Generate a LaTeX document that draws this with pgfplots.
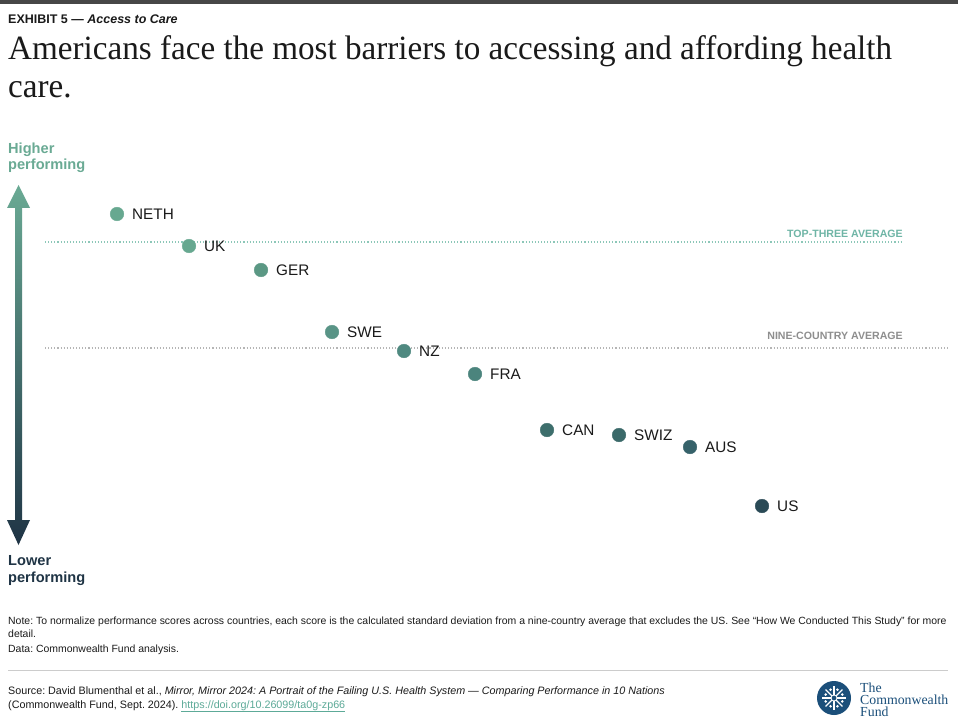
\documentclass[border=0pt]{standalone}
\usepackage{fontspec}
\setmainfont{Liberation Sans}
\newfontfamily\titlefont[FakeStretch=0.975]{Liberation Serif}
\newfontfamily\logofont{Liberation Serif}
\usepackage{pgfplots}
\pgfplotsset{compat=1.18}
\frenchspacing
\definecolor{cNETH}{HTML}{67A890}
\definecolor{cUK}{HTML}{67A890}
\definecolor{cGER}{HTML}{5B9884}
\definecolor{cSWE}{HTML}{599486}
\definecolor{cNZ}{HTML}{4F8980}
\definecolor{cFRA}{HTML}{4B847D}
\definecolor{cCAN}{HTML}{3D6E6C}
\definecolor{cSWIZ}{HTML}{3A6969}
\definecolor{cAUS}{HTML}{36626A}
\definecolor{cUS}{HTML}{2A4A56}
\definecolor{arrtop}{HTML}{6AAA94}
\definecolor{arrbot}{HTML}{1F3445}
\definecolor{topavg}{HTML}{6FB5A6}
\definecolor{topline}{HTML}{8CC7B8}
\definecolor{nineavg}{HTML}{8E8E8E}
\definecolor{nineline}{HTML}{B5B5B5}
\definecolor{logoblue}{HTML}{1B4F7A}
\definecolor{linkc}{HTML}{5DAA98}
\definecolor{txt}{HTML}{1A1A1A}
\tikzset{lbl/.style={anchor=west,inner sep=0pt,xshift=15pt,text=txt,
    font=\fontsize{15.3}{18}\selectfont}}
\begin{document}
\begin{tikzpicture}
\begin{axis}[width=958pt,height=722pt,scale only axis,
  xmin=0,xmax=958,ymin=0,ymax=722,y dir=reverse,hide axis,clip=false,
  every axis plot/.append style={only marks,mark=*,mark size=6.8pt,
    mark options={draw=none}}]
% background
\fill[white] (axis cs:0,0) rectangle (axis cs:958,722);
\fill[black!72] (axis cs:0,0) rectangle (axis cs:958,4);
% header
\node[anchor=base west,inner sep=0pt,text=txt,font=\fontsize{12.5}{15}\selectfont\bfseries]
  at (axis cs:8,24) {EXHIBIT 5 --- \textit{Access to Care}};
\node[anchor=base west,inner sep=0pt,text=txt,font=\fontsize{34}{38}\selectfont\titlefont]
  at (axis cs:8,60) {Americans face the most barriers to accessing and affording health};
\node[anchor=base west,inner sep=0pt,text=txt,font=\fontsize{34}{38}\selectfont\titlefont]
  at (axis cs:8,98) {care.};
% side labels
\node[anchor=base west,inner sep=0pt,text=arrtop,font=\fontsize{14.6}{17}\selectfont\bfseries]
  at (axis cs:8,154) {Higher};
\node[anchor=base west,inner sep=0pt,text=arrtop,font=\fontsize{14.6}{17}\selectfont\bfseries]
  at (axis cs:8,170) {performing};
\node[anchor=base west,inner sep=0pt,text=arrbot,font=\fontsize{14.6}{17}\selectfont\bfseries]
  at (axis cs:8,565) {Lower};
\node[anchor=base west,inner sep=0pt,text=arrbot,font=\fontsize{14.6}{17}\selectfont\bfseries]
  at (axis cs:8,582) {performing};
% arrow
\shade[top color=arrtop,bottom color=arrbot]
  (axis cs:18.5,185) -- (axis cs:30,208) -- (axis cs:22,208) -- (axis cs:22,520)
  -- (axis cs:30,520) -- (axis cs:18.5,545) -- (axis cs:7,520) -- (axis cs:15,520)
  -- (axis cs:15,208) -- (axis cs:7,208) -- cycle;
% average lines
\draw[topline,line width=1.1pt,dash pattern=on 1.1pt off 2pt] (axis cs:45,242) -- (axis cs:903,242);
\draw[nineline,line width=1.1pt,dash pattern=on 1.1pt off 2pt] (axis cs:45,348) -- (axis cs:948,348);
\node[anchor=base east,inner sep=0pt,text=topavg,font=\fontsize{10.6}{12}\selectfont\bfseries]
  at (axis cs:903,237) {TOP-THREE AVERAGE};
\node[anchor=base east,inner sep=0pt,text=nineavg,font=\fontsize{10.6}{12}\selectfont\bfseries]
  at (axis cs:903,339) {NINE-COUNTRY AVERAGE};
% data points
\addplot[color=cNETH] coordinates {(117,214)} node[lbl] {NETH};
\addplot[color=cUK] coordinates {(189,246)} node[lbl] {UK};
\addplot[color=cGER] coordinates {(261,270)} node[lbl] {GER};
\addplot[color=cSWE] coordinates {(332,332)} node[lbl] {SWE};
\addplot[color=cNZ] coordinates {(404,351)} node[lbl] {NZ};
\addplot[color=cFRA] coordinates {(475,374)} node[lbl] {FRA};
\addplot[color=cCAN] coordinates {(547,430)} node[lbl] {CAN};
\addplot[color=cSWIZ] coordinates {(619,435)} node[lbl] {SWIZ};
\addplot[color=cAUS] coordinates {(690,447)} node[lbl] {AUS};
\addplot[color=cUS] coordinates {(762,506)} node[lbl] {US};
% notes
\node[anchor=base west,inner sep=0pt,text=txt,font=\fontsize{10.45}{12.5}\selectfont]
  at (axis cs:8,624) {Note: To normalize performance scores across countries, each score is the calculated standard deviation from a nine-country average that excludes the US. See ``How We Conducted This Study'' for more};
\node[anchor=base west,inner sep=0pt,text=txt,font=\fontsize{10.45}{12.5}\selectfont]
  at (axis cs:8,637) {detail.};
\node[anchor=base west,inner sep=0pt,text=txt,font=\fontsize{10.45}{12.5}\selectfont]
  at (axis cs:8,652) {Data: Commonwealth Fund analysis.};
\draw[black!20,line width=0.8pt] (axis cs:8,670) -- (axis cs:948,670);
\node[anchor=base west,inner sep=0pt,text=txt,font=\fontsize{10.75}{12.5}\selectfont]
  at (axis cs:8,694) {Source: David Blumenthal et al., \textit{Mirror, Mirror 2024: A Portrait of the Failing U.S. Health System --- Comparing Performance in 10 Nations}};
\node[anchor=base west,inner sep=0pt,text=txt,font=\fontsize{10.75}{12.5}\selectfont]
  at (axis cs:8,708) {(Commonwealth Fund, Sept. 2024). \textcolor{linkc}{\underline{https://doi.org/10.26099/ta0g-zp66}}};
% logo
\fill[logoblue] (axis cs:834,698) circle[radius=17pt];
\draw[white,line width=1.1pt] (axis cs:834,698) -- ++(0:12pt);
\draw[white,line width=1.1pt] (axis cs:834,698) -- ++(45:12pt);
\draw[white,line width=1.1pt] (axis cs:834,698) -- ++(90:12pt);
\draw[white,line width=1.1pt] (axis cs:834,698) -- ++(135:12pt);
\draw[white,line width=1.1pt] (axis cs:834,698) -- ++(180:12pt);
\draw[white,line width=1.1pt] (axis cs:834,698) -- ++(225:12pt);
\draw[white,line width=1.1pt] (axis cs:834,698) -- ++(270:12pt);
\draw[white,line width=1.1pt] (axis cs:834,698) -- ++(315:12pt);
\fill[white] (axis cs:834,698) ++(22.5:9pt) circle[radius=1.4pt];
\fill[white] (axis cs:834,698) ++(67.5:9pt) circle[radius=1.4pt];
\fill[white] (axis cs:834,698) ++(112.5:9pt) circle[radius=1.4pt];
\fill[white] (axis cs:834,698) ++(157.5:9pt) circle[radius=1.4pt];
\fill[white] (axis cs:834,698) ++(202.5:9pt) circle[radius=1.4pt];
\fill[white] (axis cs:834,698) ++(247.5:9pt) circle[radius=1.4pt];
\fill[white] (axis cs:834,698) ++(292.5:9pt) circle[radius=1.4pt];
\fill[white] (axis cs:834,698) ++(337.5:9pt) circle[radius=1.4pt];
\fill[logoblue] (axis cs:834,698) circle[radius=3pt];
\draw[white,line width=0.8pt] (axis cs:834,698) circle[radius=3pt];
\node[anchor=base west,inner sep=0pt,text=logoblue,font=\fontsize{13.8}{14}\selectfont\logofont]
  at (axis cs:860,692) {The};
\node[anchor=base west,inner sep=0pt,text=logoblue,font=\fontsize{13.8}{14}\selectfont\logofont]
  at (axis cs:860,704) {Commonwealth};
\node[anchor=base west,inner sep=0pt,text=logoblue,font=\fontsize{13.8}{14}\selectfont\logofont]
  at (axis cs:860,716) {Fund};
\end{axis}
\end{tikzpicture}
\end{document}
